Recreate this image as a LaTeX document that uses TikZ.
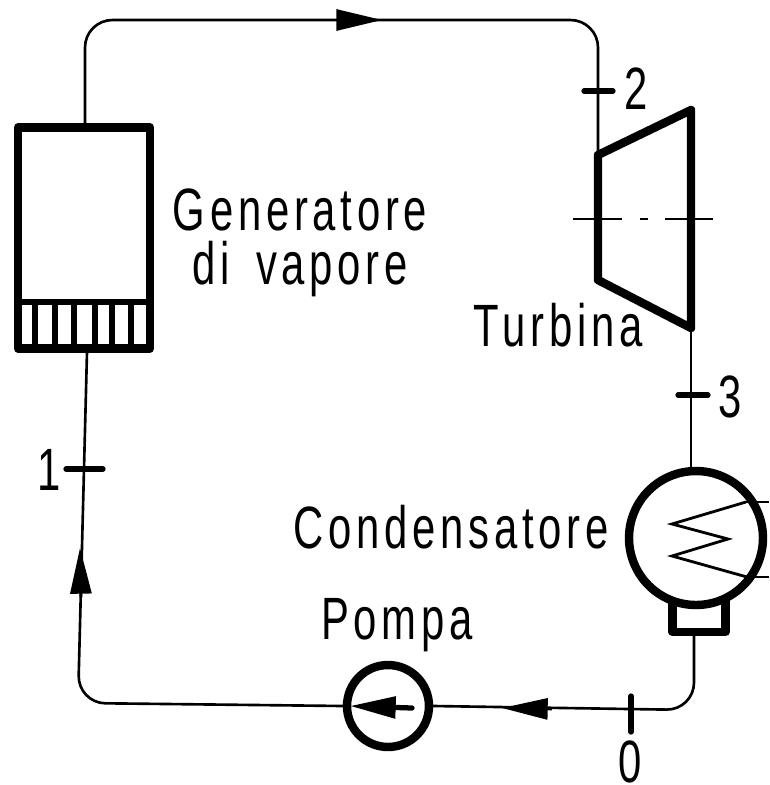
\documentclass[tikz,border=0pt]{standalone}
\usepackage{fontspec}
\setmainfont[FakeStretch=0.7,LetterSpace=8]{Liberation Sans}
\usetikzlibrary{arrows.meta}

\tikzset{
  pipe/.style={line width=1.5pt,rounded corners=0.55cm},
  heavy/.style={line width=4.8pt,line join=round},
  tick/.style={line width=3pt,line cap=round},
  flow/.style={line width=1.5pt,-{Triangle[length=26pt,width=12pt]}},
  lab/.style={font=\fontsize{34}{31}\selectfont,inner sep=0pt}
}

\begin{document}
\begin{tikzpicture}[x=0.02cm,y=-0.02cm]
        \useasboundingbox (0,0) rectangle (769,785);

        % components
        \node[heavy,draw,minimum width=2.64cm,minimum height=4.42cm,inner sep=0pt] (gen) at (84,238) {};
        \node[heavy,draw,minimum width=1.06cm,minimum height=0.68cm,inner sep=0pt] (condbox) at (699,615) {};
        \node[heavy,draw,fill=white,circle,minimum size=2.68cm,inner sep=0pt] (cond) at (696,538) {};
        \node[heavy,draw,circle,minimum size=1.64cm,inner sep=0pt] (pump) at (388,706) {};

        % burner bars
        \draw[line width=3pt] (17,302) -- (149,302);
        \foreach \x in {35,55,74,95,112,131}
            \draw[line width=3.2pt] (\x,302) -- (\x,348);

        % turbine
        \coordinate (tin) at (598,155);
        \coordinate (tup) at (691,110);
        \coordinate (tout) at (691,328);
        \coordinate (tlow) at (598,280);
        \draw[heavy] (tin) -- (tup) -- (tout) -- (tlow) -- cycle;
        \draw[line width=1.7pt,dash pattern=on 28pt off 10pt on 4.5pt off 10pt] (573,219) -- (713,219);

        % coil
        \coordinate (cin) at (746,502);
        \coordinate (cout) at (747,577);
        \draw[line width=1.6pt,line join=miter] (cin) -- (672,524) -- (728,539) -- (672,556) -- (cout);
        \draw[line width=1.5pt] (cin) -- (769,502);
        \draw[line width=1.5pt] (cout) -- (769,577);

        % circuit
        \coordinate (topl) at (85,20);
        \coordinate (topr) at (598,20);
        \coordinate (botr) at (694,710);
        \coordinate (botl) at (78,703);
        \coordinate (genin) at (87,352);
        \coordinate (genout) at (85,127);
        \coordinate (boxout) at (694,632);
        \draw[pipe] (genout) -- (topl) -- (topr) -- (tin);
        \draw[line width=1.5pt] (tout) -- (cond.north -| tout);
        \draw[pipe] (boxout) -- (botr) -- (pump.east);
        \draw[pipe] (pump.west) -- (botl) -- (genin);

        % arrows
        \draw[flow] (333,20) -- (382,20);
        \draw[flow] (552,709) -- (502,708);
        \draw[flow] (81,597) -- (80,548);
        \draw[flow,line width=3pt,line cap=round] (412,708) -- (350,706);

        % stations
        \draw[tick] (66,469) -- (103,469);
        \draw[tick] (584,91) -- (613,91);
        \draw[tick] (678,395) -- (708,395);
        \draw[tick] (631,696) -- (631,732);

        % labels
        \node[lab,align=center] (lgen) at (300,243) {Generatore\\di\hspace{0.45em}vapore};
        \node[lab] (ltur) at (558,325) {Turbina};
        \node[lab] (lcon) at (451,527) {Condensatore};
        \node[lab] (lpom) at (397,625) {Pompa};
        \node[lab] (l1) at (49,470) {1};
        \node[lab] (l2) at (636,89) {2};
        \node[lab] (l3) at (730,397) {3};
        \node[lab] (l0) at (630,762) {0};
    \end{tikzpicture}
\end{document}
